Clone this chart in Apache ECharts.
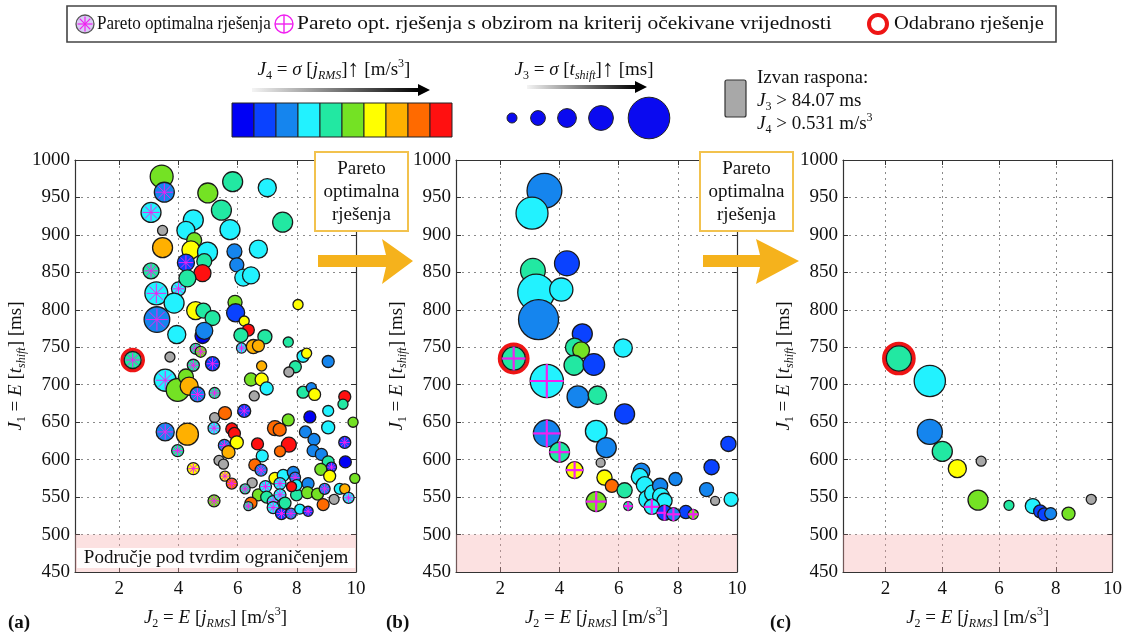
<!DOCTYPE html>
<html><head><meta charset="utf-8">
<script src="https://cdn.jsdelivr.net/npm/echarts@6/dist/echarts.min.js"></script>
<style>html,body{margin:0;padding:0;background:#fff}#c{width:1125px;height:635px}</style>
</head><body><div id="c"></div>
<script>
const FONT = 'Liberation Serif';
const J3_LIMIT = 84.07;   // ms
const J4_LIMIT = 0.531;   // m/s^3
const xRange = [0.5, 10];
const yRange = [450, 1000];
const yStep = 50;
const hardLimit = [450, 500];
const colorLevels = ['#0000f5','#0a42ff','#1585ee','#22f2ff','#22e8a2','#74e224','#ffff00','#ffb000','#ff6a00','#ff1010'];
const sizeLegendJ3 = [5, 17, 27, 42, 84];
const panelLabels = ['(a)', '(b)', '(c)'];
// columns: J2 [m/s^3], J1 [ms], J3 [ms], J4 [m/s^3], marker (0 none, 1 Pareto star, 2 Pareto plus), selected
const pointsA = [
[3.43,978,71,0.29,0,0],[3.52,957,57,0.13,1,0],[3.07,930,57,0.19,1,0],[3.46,906,10,0.60,0,0],
[3.46,883,57,0.40,0,0],[3.07,852,38,0.24,1,0],[3.25,822,71,0.19,1,0],[4.00,828,29,0.19,1,0],
[3.85,809,57,0.19,0,0],[3.27,787,84,0.13,1,0],[3.94,767,48,0.19,0,0],[3.71,737,10,0.60,0,0],
[4.50,920,57,0.19,0,0],[4.25,906,48,0.19,0,0],[4.53,893,33,0.29,0,0],[4.42,880,48,0.35,0,0],
[4.98,877,57,0.19,0,0],[4.87,865,33,0.24,0,0],[4.25,863,43,0.08,1,0],[4.81,849,43,0.50,0,0],
[4.30,842,43,0.24,0,0],[4.99,956,57,0.29,0,0],[5.45,933,57,0.24,0,0],[5.83,971,57,0.24,0,0],
[7.00,963,48,0.19,0,0],[7.52,917,57,0.24,0,0],[5.74,907,57,0.19,0,0],[5.89,878,33,0.13,0,0],
[6.70,881,48,0.19,0,0],[5.97,860,29,0.13,0,0],[6.19,843,43,0.19,0,0],[6.45,846,43,0.19,0,0],
[5.91,810,29,0.29,0,0],[5.93,796,48,0.08,0,0],[4.58,799,48,0.35,0,0],[4.84,799,33,0.24,0,0],
[5.15,789,33,0.24,0,0],[4.81,765,33,0.03,0,0],[4.87,772,43,0.13,0,0],[4.58,748,14,0.24,1,0],
[4.75,744,14,0.29,1,0],[5.15,728,29,0.08,1,0],[4.50,726,19,0.24,1,0],[6.22,785,10,0.35,0,0],
[6.36,773,19,0.50,0,0],[6.11,766,29,0.24,0,0],[6.92,764,29,0.24,0,0],[7.71,757,10,0.24,0,0],
[8.04,807,10,0.35,0,0],[6.13,749,10,0.19,1,0],[6.53,751,29,0.40,0,0],[6.70,752,19,0.40,0,0],
[8.21,738,19,0.19,0,0],[8.33,742,10,0.35,0,0],[9.06,731,19,0.13,0,0],[6.81,725,10,0.40,0,0],
[7.95,724,19,0.24,0,0],[3.55,706,67,0.19,1,0],[3.97,693,71,0.29,0,0],[4.25,711,33,0.29,0,0],
[4.36,698,48,0.40,0,0],[4.64,687,33,0.13,1,0],[5.22,689,14,0.24,1,0],[3.55,637,48,0.13,1,0],
[4.30,634,67,0.40,0,0],[3.97,612,19,0.24,1,0],[4.50,588,19,0.35,1,0],[5.20,545,19,0.29,1,0],
[5.22,656,10,0.60,0,0],[5.20,642,19,0.19,1,0],[5.37,599,10,0.60,0,0],[6.45,707,24,0.29,0,0],
[6.81,707,24,0.35,0,0],[6.98,695,24,0.19,0,0],[6.56,685,10,0.60,0,0],[7.73,717,10,0.60,0,0],
[8.21,690,19,0.24,0,0],[8.49,696,10,0.13,0,0],[8.60,687,19,0.35,0,0],[9.62,684,19,0.50,0,0],
[9.56,674,10,0.24,0,0],[5.57,662,24,0.45,0,0],[6.22,665,24,0.08,1,0],[7.26,642,33,0.45,0,0],
[7.42,640,24,0.45,0,0],[7.71,653,19,0.29,0,0],[8.44,657,19,0.03,0,0],[9.06,665,14,0.19,0,0],
[9.06,643,24,0.19,0,0],[9.90,650,10,0.29,0,0],[5.80,641,19,0.50,0,0],[5.89,635,19,0.50,0,0],
[5.97,623,24,0.35,0,0],[5.55,619,19,0.13,1,0],[5.69,610,24,0.40,0,0],[5.52,594,10,0.60,0,0],
[6.67,621,19,0.50,0,0],[7.73,620,33,0.50,0,0],[7.43,611,14,0.45,0,0],[6.83,605,19,0.19,0,0],
[8.29,637,19,0.13,0,0],[8.58,627,19,0.13,0,0],[8.55,612,19,0.13,0,0],[8.83,607,19,0.13,0,0],
[9.06,597,19,0.24,0,0],[9.17,590,10,0.08,1,0],[9.64,597,19,0.03,0,0],[9.62,623,19,0.08,1,0],
[9.96,575,10,0.29,0,0],[8.81,587,19,0.29,0,0],[9.11,578,19,0.35,0,0],[6.58,593,19,0.45,0,0],
[6.79,586,19,0.13,1,0],[6.49,569,10,0.60,0,0],[5.57,578,10,0.35,1,0],[5.80,568,14,0.45,1,0],
[6.25,561,10,0.24,1,0],[7.26,575,19,0.35,0,0],[7.54,579,19,0.19,0,0],[7.43,568,19,0.19,1,0],
[7.88,583,19,0.13,0,0],[7.94,576,14,0.13,1,0],[6.70,553,19,0.29,0,0],[6.94,564,19,0.19,1,0],
[6.98,550,19,0.24,0,0],[7.20,544,19,0.19,1,0],[7.43,553,19,0.19,1,0],[7.54,540,19,0.24,0,0],
[7.99,553,19,0.24,0,0],[7.99,566,14,0.19,0,0],[7.82,564,10,0.50,0,0],[8.38,568,19,0.13,0,0],
[8.36,556,19,0.29,0,0],[8.70,554,19,0.29,0,0],[8.89,540,19,0.45,0,0],[8.94,561,14,0.13,1,0],
[9.26,547,10,0.60,0,0],[9.45,561,14,0.19,0,0],[9.62,561,10,0.40,0,0],[9.75,549,14,0.19,1,0],
[6.45,542,19,0.45,0,0],[6.36,538,5,0.24,1,0],[7.20,536,19,0.19,1,0],[7.48,528,19,0.08,1,0],
[7.80,528,14,0.13,1,0],[8.10,534,10,0.19,0,0],[8.38,531,10,0.08,1,0],[7.60,542,19,0.24,0,0],
[2.45,733,43,0.24,1,1]
];
const pointsB = [
[3.49,959,67,0.13,0,0],[3.07,929,60,0.19,0,0],[3.10,852,42,0.24,0,0],[4.25,862,42,0.08,0,0],
[3.21,823,72,0.19,0,0],[4.06,827,38,0.19,0,0],[3.29,787,80,0.13,0,0],[4.77,768,30,0.08,0,0],
[4.51,750,26,0.24,0,0],[4.73,746,22,0.29,0,0],[6.15,749,26,0.19,0,0],[4.49,726,30,0.24,0,0],
[5.16,727,34,0.08,0,0],[4.62,684,34,0.13,0,0],[5.28,686,26,0.24,0,0],[6.20,661,30,0.08,0,0],
[5.24,638,34,0.19,0,0],[5.58,616,30,0.13,0,0],[5.39,596,20,0.60,0,0],[5.52,576,18,0.35,0,0],
[5.77,565,13,0.45,0,0],[6.20,559,18,0.24,0,0],[6.77,584,22,0.13,0,0],[6.71,577,22,0.19,0,0],
[6.88,566,22,0.19,0,0],[6.99,547,26,0.19,0,0],[7.16,555,22,0.19,0,0],[7.40,565,18,0.13,0,0],
[7.43,551,22,0.19,0,0],[7.55,545,18,0.19,0,0],[7.92,574,13,0.13,0,0],[8.27,530,13,0.08,0,0],
[9.14,590,18,0.08,0,0],[8.97,560,15,0.13,0,0],[9.26,545,20,0.60,0,0],[9.71,621,18,0.08,0,0],
[9.80,547,15,0.19,0,0],
[3.57,705,63,0.19,2,0],[3.57,635,47,0.13,2,0],[4.00,610,30,0.24,2,0],[4.51,586,22,0.35,2,0],
[5.24,544,30,0.29,2,0],[6.32,538,2,0.24,2,0],[7.12,537,18,0.19,2,0],[7.55,529,18,0.08,2,0],
[7.85,527,13,0.13,2,0],[8.52,527,5,0.29,2,0],[2.45,735,38,0.24,2,1]
];
const pointsC = [
[3.56,705,83,0.19,0,0],[3.56,637,61,0.13,0,0],[4.00,611,43,0.24,0,0],[4.53,588,36,0.35,0,0],
[5.37,598,20,0.60,0,0],[5.26,546,43,0.29,0,0],[6.35,539,7,0.24,0,0],[7.19,538,25,0.19,0,0],
[7.45,531,18,0.08,0,0],[7.60,527,18,0.08,0,0],[7.82,528,14,0.13,0,0],[8.45,528,18,0.29,0,0],
[9.25,547,20,0.60,0,0],[2.47,735,61,0.24,0,1]
];

// ---- styles ----
const panelSize = [ {min:8, k:0.21, gray:10, ring:3.5}, {min:8, k:0.40, gray:9, ring:4}, {min:8, k:0.28, gray:10, ring:4} ];
const grids = [
  {left:75, top:160, width:281, height:418},
  {left:456, top:160, width:281, height:418},
  {left:843, top:160, width:279, height:418}
];
const MAG = '#f020f0';
function colorOf(j3, j4){
  if (j3 > J3_LIMIT || j4 > J4_LIMIT) return null;
  return colorLevels[Math.max(0, Math.min(9, Math.floor(j4 / (J4_LIMIT/10))))];
}
function makeRender(pi){
  const s = panelSize[pi];
  return function(params, api){
    const p = api.coord([api.value(0), api.value(1)]);
    const j3 = api.value(2), j4 = api.value(3), mk = api.value(4), sel = api.value(5);
    const c = colorOf(j3, j4);
    const d = c ? s.min + j3 * s.k : s.gray;
    const r = d / 2;
    const ch = [];
    if (sel) ch.push({type:'circle', shape:{cx:p[0], cy:p[1], r:r + s.ring/2 + 0.3}, style:{fill:'none', stroke:'#ee1515', lineWidth:s.ring}});
    ch.push({type:'circle', shape:{cx:p[0], cy:p[1], r:r}, style:{fill:c || '#a8a8a8', stroke:'#1a1a1a', lineWidth:1.3}});
    if (mk === 1){
      const L = r * 0.85;
      for (let k = 0; k < 4; k++){
        const a = k * Math.PI / 4;
        ch.push({type:'line', shape:{x1:p[0]-L*Math.cos(a), y1:p[1]-L*Math.sin(a), x2:p[0]+L*Math.cos(a), y2:p[1]+L*Math.sin(a)}, style:{stroke:MAG, lineWidth:1}});
      }
    } else if (mk === 2){
      const L = r * 1.02;
      ch.push({type:'line', shape:{x1:p[0]-L, y1:p[1], x2:p[0]+L, y2:p[1]}, style:{stroke:MAG, lineWidth:2.2}});
      ch.push({type:'line', shape:{x1:p[0], y1:p[1]-L, x2:p[0], y2:p[1]+L}, style:{stroke:MAG, lineWidth:2.2}});
    }
    return {type:'group', children:ch};
  };
}
const richBase = {
  n:{fontFamily:FONT, fontSize:19, lineHeight:24, color:'#111'},
  it:{fontFamily:FONT, fontSize:19, lineHeight:24, fontStyle:'italic', color:'#111'},
  sub:{fontFamily:FONT, fontSize:12, lineHeight:11, verticalAlign:'bottom', color:'#111'},
  subit:{fontFamily:FONT, fontSize:12, lineHeight:11, verticalAlign:'bottom', fontStyle:'italic', color:'#111'},
  sup:{fontFamily:FONT, fontSize:12, lineHeight:12, verticalAlign:'top', color:'#111'},
  b:{fontFamily:FONT, fontSize:24, lineHeight:24, fontWeight:'bold', color:'#111'}
};
const yName = '{it|J}{sub|1}{n| = }{it|E}{n| [}{it|t}{subit|shift}{n|] [ms]}';
const xName = '{it|J}{sub|2}{n| = }{it|E}{n| [}{it|j}{subit|RMS}{n|] [m/s}{sup|3}{n|]}';

const xAxes = [], yAxes = [], series = [];
const pts = [pointsA, pointsB, pointsC];
for (let i = 0; i < 3; i++){
  xAxes.push({type:'value', gridIndex:i, min:xRange[0], max:xRange[1], splitNumber:5,
    axisLine:{show:true, onZero:false, lineStyle:{color:'#333', width:1.2}},
    axisTick:{show:true, inside:true, length:5, lineStyle:{color:'#333'}},
    axisLabel:{showMinLabel:false, fontFamily:FONT, fontSize:19, color:'#111', margin:8},
    splitLine:{show:true, lineStyle:{type:[2,4], color:'#8a8a8a', width:1}},
    name:xName, nameLocation:'middle', nameGap:34, nameTextStyle:{rich:richBase}});
  xAxes.push({type:'value', gridIndex:i, position:'top', min:xRange[0], max:xRange[1], splitNumber:5,
    axisLine:{show:true, onZero:false, lineStyle:{color:'#333', width:1.2}},
    axisTick:{show:true, inside:true, length:5, lineStyle:{color:'#333'}},
    axisLabel:{show:false}, splitLine:{show:false}});
  yAxes.push({type:'value', gridIndex:i, min:yRange[0], max:yRange[1], interval:yStep,
    axisLine:{show:true, onZero:false, lineStyle:{color:'#333', width:1.2}},
    axisTick:{show:true, inside:true, length:5, lineStyle:{color:'#333'}},
    axisLabel:{fontFamily:FONT, fontSize:19, color:'#111', margin:5, formatter:function(v){ return String(v); }},
    splitLine:{show:true, lineStyle:{type:[2,4], color:'#8a8a8a', width:1}},
    name:yName, nameLocation:'middle', nameGap:46, nameRotate:90, nameTextStyle:{rich:richBase}});
  yAxes.push({type:'value', gridIndex:i, position:'right', min:yRange[0], max:yRange[1], interval:yStep,
    axisLine:{show:true, onZero:false, lineStyle:{color:'#333', width:1.2}},
    axisTick:{show:true, inside:true, length:5, lineStyle:{color:'#333'}},
    axisLabel:{show:false}, splitLine:{show:false}});
  series.push({type:'line', xAxisIndex:2*i, yAxisIndex:2*i, data:[], silent:true,
    markArea:{silent:true, itemStyle:{color:'rgba(245,165,165,0.33)'}, data:[[{yAxis:hardLimit[0]},{yAxis:hardLimit[1]}]]}});
  series.push({type:'custom', xAxisIndex:2*i, yAxisIndex:2*i, data:pts[i], encode:{x:0, y:1},
    renderItem:makeRender(i), z:5, silent:true, animation:false});
}

// ---- graphic annotations ----
const G = [];
function text(x, y, str, extra, sx){
  G.push({type:'text', x:x, y:y, z:100, scaleX:sx || 1, style:Object.assign({text:str, fontFamily:FONT, fontSize:19, fill:'#111',
    align:'left', textAlign:'left', verticalAlign:'middle', textVerticalAlign:'middle', rich:richBase}, extra || {})});
}
// top legend box
G.push({type:'rect', z:90, shape:{x:67, y:6, width:989, height:36}, style:{fill:'#fff', stroke:'#444', lineWidth:1.6}});
// star symbol
G.push({type:'circle', z:100, shape:{cx:85, cy:24, r:9}, style:{fill:'#d9ccf5', stroke:'#555', lineWidth:1.3}});
for (let k = 0; k < 4; k++){ const a = k*Math.PI/4, L = 7.5;
  G.push({type:'line', z:101, shape:{x1:85-L*Math.cos(a), y1:24-L*Math.sin(a), x2:85+L*Math.cos(a), y2:24+L*Math.sin(a)}, style:{stroke:MAG, lineWidth:1.2}}); }
text(97, 24, 'Pareto optimalna rješenja', null, 0.9);
// plus symbol
G.push({type:'circle', z:100, shape:{cx:284, cy:24, r:9}, style:{fill:'#fff', stroke:MAG, lineWidth:1.4}});
G.push({type:'line', z:101, shape:{x1:275, y1:24, x2:293, y2:24}, style:{stroke:MAG, lineWidth:1.4}});
G.push({type:'line', z:101, shape:{x1:284, y1:15, x2:284, y2:33}, style:{stroke:MAG, lineWidth:1.4}});
text(297, 24, 'Pareto opt. rješenja s obzirom na kriterij očekivane vrijednosti', null, 1.13);
// selected ring
G.push({type:'circle', z:100, shape:{cx:878, cy:24, r:9}, style:{fill:'#fff', stroke:'#ee1515', lineWidth:4}});
text(894, 24, 'Odabrano rješenje', null, 1.08);

// J4 colour bar
text(334, 70, '{it|J}{sub|4}{n| = }{it|σ}{n| [}{it|j}{subit|RMS}{n|]}{b|↑}{n| [m/s}{sup|3}{n|]}', {align:'center', textAlign:'center'});
G.push({type:'rect', z:100, shape:{x:252, y:88, width:168, height:4}, style:{fill:new echarts.graphic.LinearGradient(0,0,1,0,[{offset:0,color:'#f4f4f4'},{offset:1,color:'#000'}])}});
G.push({type:'polygon', z:100, shape:{points:[[418,84],[430,90],[418,96]]}, style:{fill:'#000'}});
for (let i = 0; i < colorLevels.length; i++){
  G.push({type:'rect', z:100, shape:{x:232 + i*22, y:103, width:22, height:34}, style:{fill:colorLevels[i], stroke:'#222', lineWidth:1}});
}
// J3 size scale
text(584, 70, '{it|J}{sub|3}{n| = }{it|σ}{n| [}{it|t}{subit|shift}{n|]}{b|↑}{n| [ms]}', {align:'center', textAlign:'center'});
G.push({type:'rect', z:100, shape:{x:527, y:85, width:110, height:4}, style:{fill:new echarts.graphic.LinearGradient(0,0,1,0,[{offset:0,color:'#f4f4f4'},{offset:1,color:'#000'}])}});
G.push({type:'polygon', z:100, shape:{points:[[635,81],[647,87],[635,93]]}, style:{fill:'#000'}});
const sizeLegendX = [512, 538, 567, 601, 649];
sizeLegendJ3.forEach(function(v, i){
  G.push({type:'circle', z:100, shape:{cx:sizeLegendX[i], cy:118, r:(8 + v*0.4)/2}, style:{fill:'#0a0af0', stroke:'#222', lineWidth:1}});
});
// out of range
G.push({type:'rect', z:100, shape:{x:725, y:80, width:21, height:37, r:2}, style:{fill:'#a8a8a8', stroke:'#333', lineWidth:1.2}});
text(757, 78, 'Izvan raspona:');
text(757, 101, '{it|J}{sub|3}{n| > ' + J3_LIMIT.toFixed(2) + ' ms}');
text(757, 124, '{it|J}{sub|4}{n| > ' + J4_LIMIT.toFixed(3) + ' m/s}{sup|3}');

// Pareto boxes and arrows
[[315, 318, 386, 413], [700, 703, 760, 799]].forEach(function(b){
  G.push({type:'rect', z:95, shape:{x:b[0], y:152, width:93, height:79}, style:{fill:'#fff', stroke:'#f2c24e', lineWidth:2}});
  text(b[0] + 46.5, 192, 'Pareto\noptimalna\nrješenja', {align:'center', textAlign:'center', lineHeight:23, fontSize:19});
  G.push({type:'polygon', z:95, shape:{points:[[b[1],255],[b[2],255],[b[2]-4,239],[b[3],261],[b[2]-4,284],[b[2],267],[b[1],267]]},
    style:{fill:'#f5b21c'}});
});
// hard constraint label (panel a)
G.push({type:'rect', z:60, shape:{x:77, y:548, width:278, height:20}, style:{fill:'rgba(255,255,255,0.92)'}});
text(216, 558, 'Područje pod tvrdim ograničenjem', {align:'center', textAlign:'center'});
// panel labels
[8, 386, 770].forEach(function(x, i){ text(x, 623, panelLabels[i], {fontWeight:'bold', fontSize:19}); });

const chart = echarts.init(document.getElementById('c'), null, {renderer:'canvas'});
chart.setOption({
  animation:false,
  backgroundColor:'#fff',
  grid:grids.map(function(g){ return Object.assign({containLabel:false}, g); }),
  xAxis:xAxes, yAxis:yAxes, series:series, graphic:G
});
</script></body></html>
